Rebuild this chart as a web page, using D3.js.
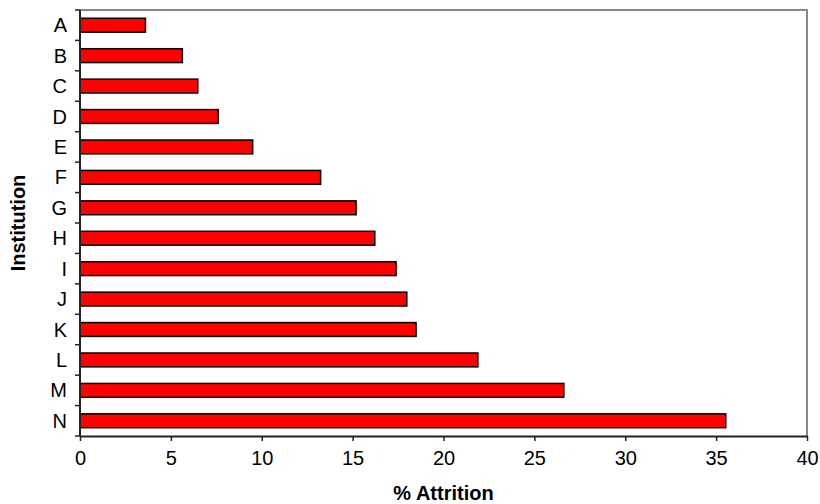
<!DOCTYPE html>
<html><head><meta charset="utf-8">
<script src="https://cdn.jsdelivr.net/npm/d3@7"></script>
<style>body{margin:0;background:#fff}svg{display:block}text{font-family:"Liberation Sans",Arial,sans-serif}</style>
</head><body>
<svg id="chart" width="820" height="504"></svg>
<script>
const categories = ["A","B","C","D","E","F","G","H","I","J","K","L","M","N"];
const values = [3.6, 5.63, 6.48, 7.6, 9.5, 13.24, 15.19, 16.22, 17.39, 17.98, 18.49, 21.89, 26.62, 35.53];
const xTicks = [0,5,10,15,20,25,30,35,40];

const svg = d3.select("#chart");
const m = {left:80, right:13, top:10, bottom:68};
const W = 820, H = 504;
const x = d3.scaleLinear().domain([0,40]).range([m.left, W - m.right]);
const y = d3.scaleBand().domain(categories).range([m.top, H - m.bottom]).paddingInner(0.545).paddingOuter(0.2725);
const yb = d3.scaleBand().domain(categories).range([m.top, H - m.bottom]);

// plot border (top/right gray)
svg.append("path")
  .attr("d", `M${x(0)},${m.top}H${x(40)}V${H-m.bottom}`)
  .attr("fill","none").attr("stroke","#888").attr("stroke-width",2);

// bars
svg.append("g").selectAll("rect").data(categories).join("rect")
  .attr("x", x(0))
  .attr("y", (d) => y(d))
  .attr("width", (d,i) => x(values[i]) - x(0))
  .attr("height", y.bandwidth())
  .attr("fill", "#ff0000")
  .attr("stroke", "#000")
  .attr("stroke-width", 1.5);

// x axis
const xAxis = svg.append("g").attr("transform", `translate(0,${H-m.bottom})`)
  .call(d3.axisBottom(x).tickValues(xTicks).tickSize(5).tickPadding(10).tickSizeOuter(0));
xAxis.select(".domain").attr("stroke","#222").attr("stroke-width",2);
xAxis.selectAll(".tick line").attr("stroke","#222").attr("stroke-width",1.5);
xAxis.selectAll("text").attr("font-size",20).attr("fill","#000");

// y axis: ticks at band boundaries
const yAxisG = svg.append("g").attr("transform", `translate(${m.left},0)`);
yAxisG.append("line").attr("x1",0).attr("x2",0).attr("y1",m.top).attr("y2",H-m.bottom)
  .attr("stroke","#222").attr("stroke-width",2);
const bounds = categories.map(c => yb(c)).concat([H - m.bottom]);
yAxisG.selectAll("line.tk").data(bounds).join("line").attr("class","tk")
  .attr("x1",-5).attr("x2",0).attr("y1",d=>d).attr("y2",d=>d)
  .attr("stroke","#222").attr("stroke-width",1.5);
yAxisG.selectAll("text").data(categories).join("text")
  .attr("x",-13).attr("y", d => yb(d) + yb.bandwidth()/2)
  .attr("dy","0.35em").attr("text-anchor","end").attr("font-size",20).text(d=>d);

// axis titles
svg.append("text").attr("x", (x(0)+x(40))/2).attr("y", 500)
  .attr("text-anchor","middle").attr("font-size",20).attr("font-weight","bold").text("% Attrition");
svg.append("text").attr("transform", `translate(25,${(m.top + H - m.bottom)/2}) rotate(-90)`)
  .attr("text-anchor","middle").attr("font-size",20).attr("font-weight","bold").text("Institution");
</script>
</body></html>
